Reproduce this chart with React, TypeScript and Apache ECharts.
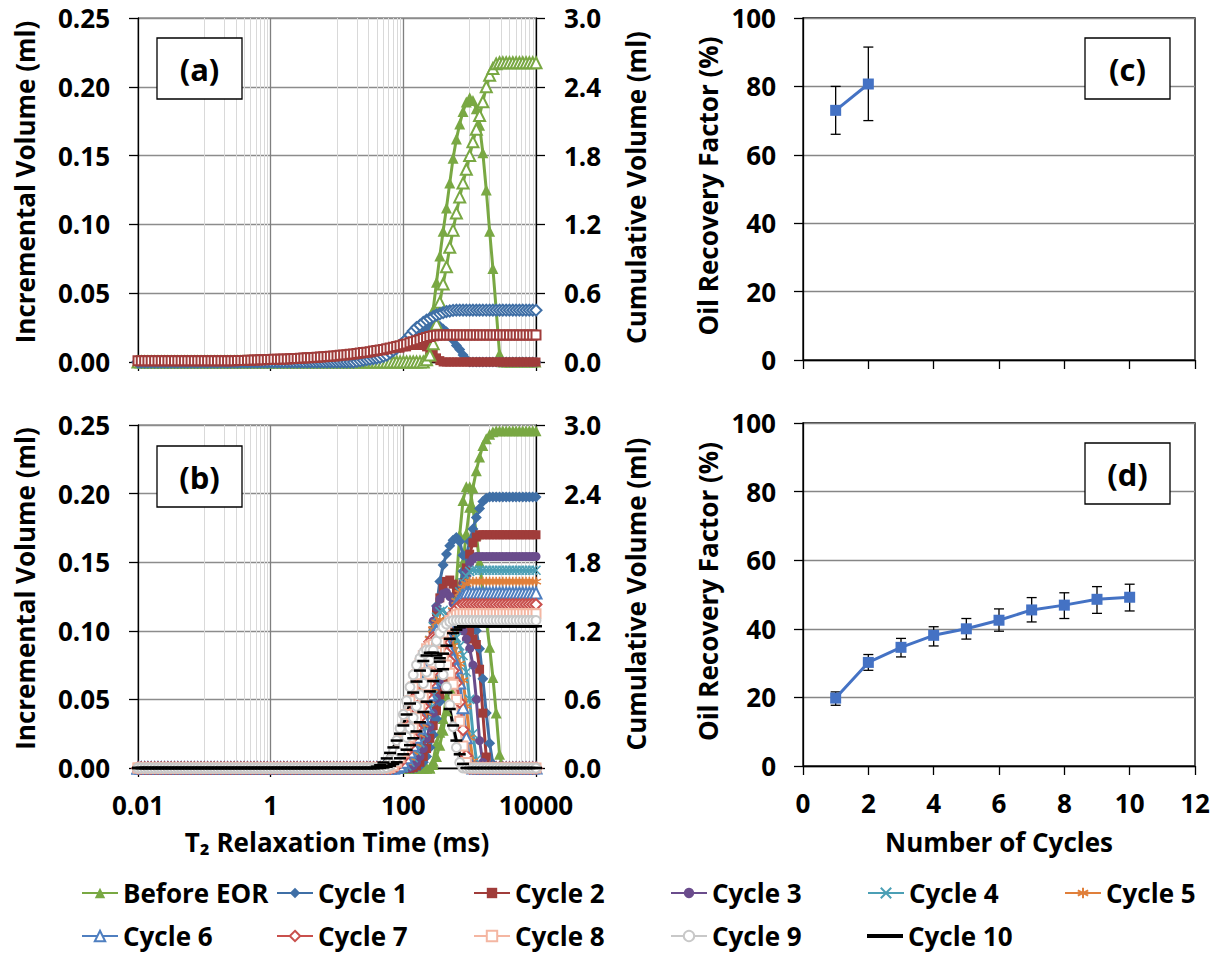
import { useEffect, useRef } from 'react';
import * as echarts from 'echarts';

// ---------- T2 grid (ms): mantissas x decades ----------
const MANT = [1, 1.12, 1.26, 1.41, 1.58, 1.78, 2, 2.24, 2.51, 2.82, 3.16, 3.55, 3.98, 4.47, 5.01, 5.62, 6.31, 7.08, 7.94, 8.91];
const DECADES = [0.01, 0.1, 1, 10, 100, 1000];
const T2_GRID = [...DECADES.flatMap((d) => MANT.map((m) => +(m * d).toPrecision(3))), 10000];

const Z = (n: number) => Array(n).fill(0);
const K = (n: number, v: number) => Array(n).fill(v);

const NAMES = ['Before EOR', 'Cycle 1', 'Cycle 2', 'Cycle 3', 'Cycle 4', 'Cycle 5', 'Cycle 6', 'Cycle 7', 'Cycle 8', 'Cycle 9', 'Cycle 10'];

// ---------- Panel (b): incremental (ml) ----------
const B_BEFORE_INC = [...Z(89), 0.005, 0.018, 0.026, 0.036, 0.052, 0.08, 0.108, 0.135, 0.17, 0.195, 0.205, 0.205, 0.19, 0.17, 0.15, 0.13, 0.108, 0.088, 0.066, 0.04, 0.01, ...Z(11)];
const B_C1_INC = [...Z(84), 0.002, 0.008, 0.02, 0.04, 0.065, 0.092, 0.118, 0.136, 0.148, 0.156, 0.162, 0.166, 0.168, 0.165, 0.155, 0.14, 0.125, 0.11, 0.1, 0.087, 0.065, 0.04, 0.018, 0.003, ...Z(13)];
const B_C2_INC = [...Z(83), 0.002, 0.008, 0.02, 0.038, 0.06, 0.082, 0.1, 0.114, 0.124, 0.131, 0.136, 0.137, 0.134, 0.128, 0.12, 0.112, 0.105, 0.099, 0.094, 0.09, 0.072, 0.04, 0.008, ...Z(15)];
const B_C3_INC = [...Z(82), 0.002, 0.008, 0.02, 0.036, 0.055, 0.075, 0.093, 0.107, 0.117, 0.123, 0.127, 0.128, 0.125, 0.12, 0.113, 0.106, 0.1, 0.094, 0.087, 0.075, 0.05, 0.02, 0.004, ...Z(16)];
const B_C4_INC = [...Z(80), 0.002, 0.006, 0.013, 0.023, 0.036, 0.051, 0.066, 0.08, 0.093, 0.103, 0.11, 0.114, 0.115, 0.112, 0.107, 0.101, 0.095, 0.089, 0.082, 0.07, 0.05, 0.025, 0.006, ...Z(18)];
const B_C5_INC = [...Z(79), 0.002, 0.006, 0.012, 0.021, 0.032, 0.045, 0.059, 0.072, 0.084, 0.094, 0.101, 0.106, 0.108, 0.106, 0.101, 0.095, 0.089, 0.083, 0.076, 0.064, 0.045, 0.022, 0.005, ...Z(19)];
const B_C6_INC = [...Z(78), 0.002, 0.006, 0.012, 0.02, 0.03, 0.041, 0.053, 0.065, 0.076, 0.085, 0.092, 0.097, 0.1, 0.1, 0.097, 0.092, 0.086, 0.08, 0.073, 0.062, 0.044, 0.022, 0.005, ...Z(20)];
const B_C7_INC = [...Z(77), 0.002, 0.006, 0.012, 0.02, 0.029, 0.039, 0.05, 0.061, 0.071, 0.08, 0.087, 0.092, 0.095, 0.095, 0.093, 0.089, 0.084, 0.078, 0.071, 0.062, 0.048, 0.028, 0.009, ...Z(21)];
const B_C8_INC = [...Z(76), 0.002, 0.006, 0.012, 0.02, 0.029, 0.039, 0.049, 0.059, 0.068, 0.076, 0.082, 0.087, 0.089, 0.09, 0.088, 0.085, 0.08, 0.075, 0.069, 0.061, 0.05, 0.034, 0.016, 0.004, ...Z(21)];
const B_C9_INC = [...Z(75), 0.002, 0.006, 0.012, 0.02, 0.029, 0.039, 0.049, 0.059, 0.068, 0.075, 0.08, 0.084, 0.086, 0.086, 0.084, 0.08, 0.075, 0.068, 0.059, 0.046, 0.03, 0.015, 0.004, ...Z(23)];
const B_C10_INC = [...Z(72), 0.001, 0.002, 0.004, 0.007, 0.011, 0.015, 0.02, 0.025, 0.031, 0.039, 0.047, 0.055, 0.063, 0.071, 0.078, 0.082, 0.084, 0.084, 0.082, 0.08, 0.072, 0.055, 0.043, 0.031, 0.02, 0.01, 0.003, ...Z(22)];

// ---------- Panel (b): cumulative (ml) ----------
const B_BEFORE_CUM = [...Z(89), 0.03, 0.1, 0.2, 0.33, 0.5, 0.7, 0.95, 1.22, 1.5, 1.8, 2.05, 2.28, 2.45, 2.6, 2.72, 2.82, 2.88, 2.92, 2.94, 2.95, ...K(12, 2.95)];
const B_C1_CUM = [...Z(84), 0.005, 0.02, 0.05, 0.1, 0.18, 0.29, 0.43, 0.58, 0.74, 0.9, 1.07, 1.24, 1.41, 1.57, 1.72, 1.86, 1.98, 2.09, 2.19, 2.27, 2.33, 2.36, 2.37, ...K(14, 2.37)];
const B_C2_CUM = [...Z(83), 0.005, 0.02, 0.05, 0.1, 0.17, 0.26, 0.37, 0.5, 0.64, 0.79, 0.94, 1.09, 1.23, 1.37, 1.5, 1.62, 1.75, 1.87, 1.97, 2.02, ...K(18, 2.04)];
const B_C3_CUM = [...Z(82), 0.005, 0.02, 0.05, 0.1, 0.17, 0.26, 0.36, 0.48, 0.61, 0.74, 0.87, 1.0, 1.13, 1.26, 1.38, 1.5, 1.61, 1.71, 1.79, 1.83, ...K(19, 1.85)];
const B_C4_CUM = [...Z(80), 0.005, 0.02, 0.05, 0.09, 0.15, 0.22, 0.31, 0.41, 0.52, 0.64, 0.76, 0.88, 1.0, 1.12, 1.24, 1.35, 1.45, 1.54, 1.62, 1.68, 1.72, ...K(20, 1.73)];
const B_C5_CUM = [...Z(79), 0.005, 0.02, 0.05, 0.09, 0.14, 0.21, 0.29, 0.38, 0.48, 0.59, 0.7, 0.82, 0.94, 1.06, 1.17, 1.28, 1.38, 1.46, 1.53, 1.58, 1.61, ...K(21, 1.63)];
const B_C6_CUM = [...Z(78), 0.005, 0.02, 0.05, 0.09, 0.14, 0.2, 0.27, 0.35, 0.44, 0.54, 0.64, 0.75, 0.86, 0.97, 1.08, 1.18, 1.28, 1.36, 1.43, 1.48, 1.51, ...K(22, 1.53)];
const B_C7_CUM = [...Z(77), 0.005, 0.02, 0.05, 0.09, 0.14, 0.2, 0.27, 0.35, 0.44, 0.54, 0.64, 0.74, 0.84, 0.94, 1.04, 1.13, 1.22, 1.29, 1.35, 1.39, 1.42, ...K(23, 1.43)];
const B_C8_CUM = [...Z(76), 0.005, 0.02, 0.05, 0.09, 0.14, 0.2, 0.27, 0.35, 0.44, 0.53, 0.62, 0.72, 0.82, 0.92, 1.01, 1.1, 1.18, 1.24, 1.29, 1.32, 1.34, ...K(24, 1.35)];
const B_C9_CUM = [...Z(75), 0.005, 0.02, 0.05, 0.09, 0.14, 0.2, 0.27, 0.35, 0.44, 0.54, 0.64, 0.74, 0.84, 0.94, 1.03, 1.11, 1.18, 1.23, 1.26, 1.28, ...K(26, 1.29)];
const B_C10_CUM = [...Z(74), 0.005, 0.01, 0.02, 0.035, 0.05, 0.085, 0.12, 0.16, 0.2, 0.26, 0.32, 0.4, 0.49, 0.58, 0.67, 0.76, 0.85, 0.93, 1.0, 1.07, 1.13, 1.18, 1.21, 1.23, ...K(23, 1.24)];

// ---------- Panel (a) ----------
const A_BEFORE_INC = [...Z(87), 0.004, 0.02, 0.038, 0.058, 0.077, 0.095, 0.112, 0.13, 0.148, 0.162, 0.173, 0.182, 0.189, 0.192, 0.19, 0.184, 0.172, 0.152, 0.125, 0.095, 0.068, 0.038, 0.006, ...Z(11)];
const A_C1_INC = [...Z(65), 0.001, 0.001, 0.002, 0.002, 0.003, 0.003, 0.004, 0.004, 0.005, 0.006, 0.007, 0.008, 0.01, 0.011, 0.013, 0.014, 0.016, 0.017, 0.019, 0.021, 0.022, 0.024, 0.025, 0.026, 0.027, 0.027, 0.026, 0.024, 0.022, 0.019, 0.016, 0.012, 0.009, 0.005, 0.002, ...Z(21)];
const A_C2_INC = [...K(40, 0.001), ...K(10, 0.002), ...K(9, 0.003), 0.004, 0.004, 0.004, 0.004, 0.004, 0.005, 0.005, 0.005, 0.005, 0.006, 0.006, 0.006, 0.007, 0.007, 0.007, 0.008, 0.008, 0.009, 0.009, 0.01, 0.01, 0.011, 0.011, 0.012, 0.012, 0.012, 0.012, 0.012, 0.011, 0.009, 0.006, 0.003, 0.001, ...Z(29)];
const A_BEFORE_CUM = [...Z(87), 0.02, 0.06, 0.16, 0.33, 0.52, 0.68, 0.83, 1.0, 1.15, 1.3, 1.44, 1.56, 1.68, 1.8, 1.92, 2.03, 2.15, 2.27, 2.4, 2.5, 2.56, 2.6, ...K(12, 2.61)];
const A_C1_CUM = [...Z(66), 0.005, 0.01, 0.015, 0.02, 0.025, 0.03, 0.035, 0.04, 0.05, 0.06, 0.08, 0.1, 0.12, 0.145, 0.17, 0.2, 0.235, 0.27, 0.3, 0.32, 0.345, 0.365, 0.38, 0.395, 0.41, 0.42, 0.43, 0.44, 0.445, 0.45, ...K(25, 0.452)];
const A_C2_CUM = [...K(30, 0.01), 0.012, 0.013, 0.014, 0.015, 0.016, 0.017, 0.018, 0.019, 0.02, 0.021, 0.022, 0.023, 0.024, 0.025, 0.026, 0.027, 0.028, 0.03, 0.031, 0.033, 0.034, 0.036, 0.037, 0.039, 0.041, 0.043, 0.045, 0.047, 0.05, 0.052, 0.055, 0.058, 0.061, 0.064, 0.067, 0.07, 0.074, 0.078, 0.082, 0.086, 0.09, 0.095, 0.1, 0.105, 0.11, 0.116, 0.122, 0.128, 0.135, 0.142, 0.15, 0.158, 0.167, 0.176, 0.185, 0.195, 0.205, 0.214, 0.222, 0.229, 0.233, 0.235, ...K(29, 0.236)];

// ---------- Panels (c), (d): oil recovery factor (%) ----------
const C_CYCLES = [1, 2];
const C_RF = [73, 80.7];
const C_LOW = [66, 70];
const C_HIGH = [80, 91.5];

const D_CYCLES = [1, 2, 3, 4, 5, 6, 7, 8, 9, 10];
const D_RF = [19.8, 30.2, 34.6, 38.1, 40.0, 42.5, 45.5, 46.9, 48.6, 49.2];
const D_LOW = [17.7, 27.9, 31.8, 35.0, 37.0, 39.3, 42.0, 43.0, 44.5, 45.2];
const D_HIGH = [21.6, 32.5, 37.2, 40.6, 43.0, 45.8, 49.1, 50.5, 52.3, 53.0];

// gridline positions of the log axis (ms)
const V_MINOR = [0.1, 0.2, 0.3, 0.4, 0.5, 0.6, 0.7, 0.8, 0.9, 10, 20, 30, 40, 50, 60, 70, 80, 90, 1000, 2000, 3000, 4000, 5000, 6000, 7000, 8000, 9000];
const V_MAJOR = [1, 100];

const B_INC = [B_BEFORE_INC, B_C1_INC, B_C2_INC, B_C3_INC, B_C4_INC, B_C5_INC, B_C6_INC, B_C7_INC, B_C8_INC, B_C9_INC, B_C10_INC];
const B_CUM = [B_BEFORE_CUM, B_C1_CUM, B_C2_CUM, B_C3_CUM, B_C4_CUM, B_C5_CUM, B_C6_CUM, B_C7_CUM, B_C8_CUM, B_C9_CUM, B_C10_CUM];

// ---------- styles ----------
const X_PATH = 'path://M0,0L10,10M10,0L0,10';
const STAR_PATH = 'path://M5,0L5,10M0.7,2.5L9.3,7.5M0.7,7.5L9.3,2.5';
const STYLES: any[] = [
  { color: '#79A843', symbol: 'triangle', size: 11, bw: 0 },
  { color: '#3F6FA6', symbol: 'diamond', size: 11, bw: 0 },
  { color: '#A03C3A', symbol: 'rect', size: 9, bw: 0 },
  { color: '#6A4C8C', symbol: 'circle', size: 9, bw: 0 },
  { color: '#4B9FB5', symbol: X_PATH, size: 9, bw: 1.6 },
  { color: '#E07F3A', symbol: STAR_PATH, size: 10, bw: 1.6 },
  { color: '#4F7FC0', symbol: 'emptyTriangle', size: 11, bw: 1.3 },
  { color: '#C9504D', symbol: 'emptyDiamond', size: 11, bw: 1.3 },
  { color: '#F4B6A2', symbol: 'emptyRect', size: 9, bw: 1.3 },
  { color: '#C8C8C8', symbol: 'emptyCircle', size: 9, bw: 1.3 },
  { color: '#000000', symbol: 'rect', size: [12, 2.5], bw: 0 },
];
const A_CUM_SYMBOLS = ['emptyTriangle', 'emptyDiamond', 'emptyRect'];

const FONT = 'Open Sans';
const txt = (size: number) => ({ fontFamily: FONT, fontWeight: 'bold' as const, fontSize: size, color: '#000' });
const AX_LINE = { show: true, onZero: false, lineStyle: { color: '#000', width: 1.3 } };
const AX_TICK = { show: true, inside: false, length: 9, lineStyle: { color: '#000', width: 1.3 } };

const fmtLog = (v: number) => {
  const e = Math.round(Math.log10(v));
  if (e % 2 !== 0) return '';
  return e < 0 ? v.toFixed(-e) : String(Math.round(v));
};

function lineSeries(name: string, vals: number[], xi: number, yi: number, st: any, symbolOverride?: string) {
  const symbol = symbolOverride || st.symbol;
  return {
    type: 'line',
    name,
    xAxisIndex: xi,
    yAxisIndex: yi,
    data: vals.map((v, i) => [T2_GRID[i], v]),
    symbol,
    symbolSize: st.size,
    showSymbol: true,
    clip: false,
    silent: true,
    z: 2,
    lineStyle: { color: st.color, width: 3 },
    itemStyle: { color: st.color, borderColor: st.color, borderWidth: symbolOverride ? 1.3 : st.bw },
    emphasis: { disabled: true },
  };
}

function gridLines(xi: number, yi: number) {
  return {
    type: 'line',
    xAxisIndex: xi,
    yAxisIndex: yi,
    data: [],
    silent: true,
    z: 1,
    markLine: {
      silent: true,
      z: 1,
      symbol: ['none', 'none'],
      label: { show: false },
      emphasis: { disabled: true },
      data: [
        ...V_MINOR.map((v) => ({ xAxis: v, lineStyle: { color: '#d9d9d9', width: 1, type: 'solid' } })),
        ...V_MAJOR.map((v) => ({ xAxis: v, lineStyle: { color: '#7f7f7f', width: 1.3, type: 'solid' } })),
      ],
    },
  };
}

function errorBars(xs: number[], lo: number[], hi: number[], xi: number, yi: number) {
  return {
    type: 'custom',
    xAxisIndex: xi,
    yAxisIndex: yi,
    silent: true,
    z: 2,
    data: xs.map((x, i) => [x, lo[i], hi[i]]),
    encode: { x: 0, y: [1, 2] },
    renderItem: (_params: any, api: any) => {
      const x = api.value(0);
      const a = api.coord([x, api.value(1)]);
      const b = api.coord([x, api.value(2)]);
      const w = 5;
      const style = { stroke: '#000', lineWidth: 1.3 };
      return {
        type: 'group',
        children: [
          { type: 'line', shape: { x1: a[0], y1: a[1], x2: b[0], y2: b[1] }, style },
          { type: 'line', shape: { x1: a[0] - w, y1: a[1], x2: a[0] + w, y2: a[1] }, style },
          { type: 'line', shape: { x1: b[0] - w, y1: b[1], x2: b[0] + w, y2: b[1] }, style },
        ],
      };
    },
  };
}

function rfLine(xs: number[], ys: number[], xi: number, yi: number) {
  return {
    type: 'line',
    xAxisIndex: xi,
    yAxisIndex: yi,
    data: xs.map((x, i) => [x, ys[i]]),
    symbol: 'rect',
    symbolSize: 11,
    silent: true,
    z: 3,
    lineStyle: { color: '#4472C4', width: 3 },
    itemStyle: { color: '#4472C4' },
  };
}

function logX(gi: number, showLabels: boolean) {
  return {
    type: 'log',
    logBase: 10,
    gridIndex: gi,
    min: 0.01,
    max: 10000,
    interval: 2,
    axisLine: AX_LINE,
    axisTick: AX_TICK,
    axisLabel: { show: showLabels, margin: 24, formatter: fmtLog, ...txt(26) },
    splitLine: { show: false },
    name: showLabels ? 'T\u2082 Relaxation Time (ms)' : '',
    nameLocation: 'middle',
    nameGap: 74,
    nameTextStyle: { ...txt(26), verticalAlign: 'middle' },
  };
}

function volY(gi: number, left: boolean) {
  return {
    type: 'value',
    gridIndex: gi,
    position: left ? 'left' : 'right',
    min: 0,
    max: left ? 0.25 : 3,
    interval: left ? 0.05 : 0.6,
    axisLine: AX_LINE,
    axisTick: AX_TICK,
    axisLabel: { margin: 28, formatter: (v: number) => v.toFixed(left ? 2 : 1), ...txt(26) },
    splitLine: { show: left, lineStyle: { color: '#8c8c8c', width: 1.3 } },
    name: left ? 'Incremental Volume (ml)' : 'Cumulative Volume (ml)',
    nameLocation: 'middle',
    nameRotate: 90,
    nameGap: left ? 113 : 100,
    nameTextStyle: { ...txt(26), verticalAlign: 'middle', padding: left ? [0, 0, 0, 16] : [0, 0, 0, 5] },
  };
}

function rfX(gi: number, showLabels: boolean) {
  return {
    type: 'value',
    gridIndex: gi,
    min: 0,
    max: 12,
    interval: 2,
    axisLine: AX_LINE,
    axisTick: AX_TICK,
    axisLabel: { show: showLabels, margin: 24, ...txt(26) },
    splitLine: { show: false },
    name: showLabels ? 'Number of Cycles' : '',
    nameLocation: 'middle',
    nameGap: 76,
    nameTextStyle: { ...txt(26), verticalAlign: 'middle' },
  };
}

function rfY(gi: number) {
  return {
    type: 'value',
    gridIndex: gi,
    min: 0,
    max: 100,
    interval: 20,
    axisLine: AX_LINE,
    axisTick: AX_TICK,
    axisLabel: { margin: 27, ...txt(26) },
    splitLine: { show: true, lineStyle: { color: '#868686', width: 1.3 } },
    name: 'Oil Recovery Factor (%)',
    nameLocation: 'middle',
    nameRotate: 90,
    nameGap: 95,
    nameTextStyle: { ...txt(26), verticalAlign: 'middle', padding: [0, 0, 0, 6] },
  };
}

const LEGEND_POS = [
  [81, 880], [276, 880], [473, 880], [670, 880], [867, 880], [1064, 880],
  [81, 923], [276, 923], [473, 923], [670, 923], [867, 923],
];

const BOXES = [
  { label: '(a)', x: 157, y: 38 },
  { label: '(b)', x: 157, y: 446 },
  { label: '(c)', x: 1085, y: 38 },
  { label: '(d)', x: 1085, y: 443 },
];

function buildOption() {
  const series: any[] = [];
  series.push(gridLines(0, 0));
  series.push(gridLines(1, 2));
  // (b): per cycle, incremental (left axis) then cumulative (right axis); later cycles on top
  NAMES.forEach((n, i) => {
    series.push(lineSeries(n, B_INC[i], 1, 2, STYLES[i]));
    series.push(lineSeries(n, B_CUM[i], 1, 3, STYLES[i]));
  });
  // (a)
  const aInc = [A_BEFORE_INC, A_C1_INC, A_C2_INC];
  const aCum = [A_BEFORE_CUM, A_C1_CUM, A_C2_CUM];
  aInc.forEach((d, i) => series.push(lineSeries(NAMES[i], d, 0, 0, STYLES[i])));
  aCum.forEach((d, i) => series.push(lineSeries(NAMES[i], d, 0, 1, STYLES[i], A_CUM_SYMBOLS[i])));
  // (c), (d)
  series.push(errorBars(C_CYCLES, C_LOW, C_HIGH, 2, 4));
  series.push(rfLine(C_CYCLES, C_RF, 2, 4));
  series.push(errorBars(D_CYCLES, D_LOW, D_HIGH, 3, 5));
  series.push(rfLine(D_CYCLES, D_RF, 3, 5));

  const legend = NAMES.map((n, i) => ({
    data: [n === 'Cycle 10' ? { name: n, icon: 'rect' } : n],
    left: LEGEND_POS[i][0],
    top: LEGEND_POS[i][1],
    itemWidth: 36,
    itemHeight: n === 'Cycle 10' ? 4 : 13,
    itemGap: 0,
    padding: 0,
    selectedMode: false,
    textStyle: { ...txt(26), lineHeight: 26 },
  }));

  const graphic = BOXES.map((b) => ({
    type: 'group',
    x: b.x,
    y: b.y,
    z: 100,
    children: [
      { type: 'rect', z: 100, shape: { x: 0, y: 0, width: 85, height: 61 }, style: { fill: '#fff', stroke: '#000', lineWidth: 1.3 } },
      {
        type: 'text',
        z: 101,
        x: 42.5,
        y: 31,
        style: { text: b.label, font: `bold 31px "${FONT}"`, textAlign: 'center', textVerticalAlign: 'middle', fill: '#000' },
      },
    ],
  }));

  return {
    animation: false,
    backgroundColor: '#fff',
    textStyle: { fontFamily: FONT },
    grid: [
      { left: 138, top: 18, width: 398, height: 344, show: true, borderColor: '#595959', borderWidth: 1 },
      { left: 138, top: 425, width: 398, height: 343, show: true, borderColor: '#595959', borderWidth: 1 },
      { left: 803, top: 18, width: 392, height: 342, show: true, borderColor: '#000', borderWidth: 1.3 },
      { left: 803, top: 423, width: 392, height: 343, show: true, borderColor: '#000', borderWidth: 1.3 },
    ],
    xAxis: [logX(0, false), logX(1, true), rfX(2, false), rfX(3, true)],
    yAxis: [volY(0, true), volY(0, false), volY(1, true), volY(1, false), rfY(2), rfY(3)],
    legend,
    graphic,
    series,
  };
}

export default function App() {
  const ref = useRef<HTMLDivElement>(null);
  useEffect(() => {
    if (!ref.current) return;
    const chart = echarts.init(ref.current, null, { renderer: 'svg' });
    chart.setOption(buildOption() as any);
    return () => chart.dispose();
  }, []);
  return <div ref={ref} style={{ position: 'absolute', left: 0, top: 0, width: 1219, height: 953, background: '#fff' }} />;
}
